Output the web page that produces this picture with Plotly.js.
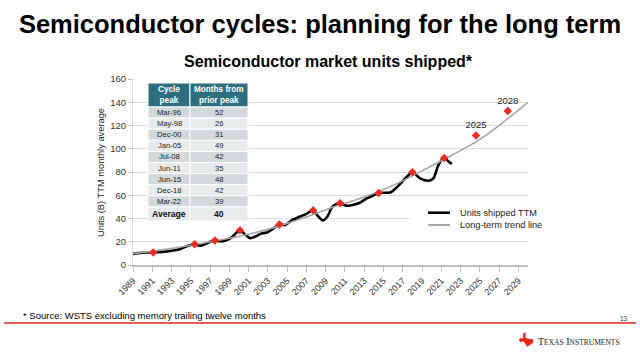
<!DOCTYPE html>
<html>
<head>
<meta charset="utf-8">
<script src="https://cdn.plot.ly/plotly-3.0.1.min.js"></script>
<style>
html,body{margin:0;padding:0;background:#fff;}
#chart{width:640px;height:353px;}
</style>
</head>
<body>
<div id="chart"></div>
<script>
// ---- data ----
const unitYears = [1989.0,1989.5,1990.0,1990.5,1991.1,1992.0,1993.0,1994.0,1994.7,1995.4,1996.0,1996.5,1997.0,1997.5,1998.1,1998.6,1999.2,1999.7,2000.1,2000.6,2001.2,2001.7,2002.3,2002.9,2003.6,2004.2,2004.8,2005.5,2006.3,2007.0,2007.7,2008.2,2008.7,2009.2,2009.6,2010.0,2010.5,2011.2,2011.9,2012.6,2013.3,2014.0,2014.5,2015.2,2015.7,2016.4,2017.2,2018.0,2018.8,2019.7,2020.2,2020.7,2021.3,2021.7,2022.1];
const unitValues = [9.6,10.2,10.6,10.8,10.9,11.3,12.3,14.0,16.5,17.9,16.5,18.0,20.0,21.0,20.2,21.0,23.5,27.5,29.8,26.5,23.0,24.5,27.0,28.0,31.5,34.8,34.5,38.5,41.5,44.0,47.1,42.0,38.3,42.0,49.0,52.0,53.1,51.0,51.8,53.8,57.5,60.0,62.0,62.2,62.3,67.0,74.0,79.8,74.5,72.5,74.8,86.0,92.0,89.5,86.8];

const trendYears  = [1989,1992,1995,1998,2001,2004,2007,2010,2013,2016,2019,2022,2025,2028,2030];
const trendValues = [9.8,13.0,17.0,21.5,26.5,33.0,41.5,50.5,58.5,68.5,81.0,94.0,108.0,126.5,140.0];

const peakYears  = [1991.1,1995.4,1997.5,2000.1,2004.2,2007.7,2010.5,2014.5,2018.0,2021.3];
const peakValues = [10.8,17.9,21.0,29.8,34.8,47.1,53.1,62.0,79.8,92.0];

const forecastYears  = [2024.6,2027.9];
const forecastValues = [111.5,132.5];
const forecastLabels = ['2025','2028'];

const cyclePeaks = ['Mar-96','May-98','Dec-00','Jan-05','Jul-08','Jun-11','Jun-15','Dec-18','Mar-22'];
const monthsFromPrior = [52,26,31,49,42,35,48,42,39];
const averageMonths = 40;
const tableHeaders = ['Cycle<br>peak', 'Months from<br>prior peak'];

const seriesNames = ['Units shipped TTM', 'Long-term trend line'];

const xTickYears = [];
for (let y = 1989; y <= 2029; y += 2) xTickYears.push(y);

// ---- geometry helpers (plot area 133..528 x, 79..265 y) ----
const L = 133, R = 528, T = 79, B = 265;
const px = x => (x - L) / (R - L);
const py = y => (B - y) / (B - T);

const FONT = 'Liberation Sans, Arial, Helvetica, sans-serif';
const RED = '#EE2B24';
const BLACK_LINE = {color: '#000', width: 2.6};
const TREND_LINE = {color: '#A6A6A6', width: 1.6};

const traces = [
  {
    type: 'scatter', mode: 'lines', name: seriesNames[0], showlegend: false,
    x: unitYears, y: unitValues,
    line: Object.assign({shape: 'spline', smoothing: 0.7}, BLACK_LINE),
    hoverinfo: 'skip'
  },
  {
    type: 'scatter', mode: 'lines', name: seriesNames[1], showlegend: false,
    x: trendYears, y: trendValues,
    line: Object.assign({shape: 'spline', smoothing: 1}, TREND_LINE),
    hoverinfo: 'skip'
  },
  {
    type: 'scatter', mode: 'markers', showlegend: false,
    x: peakYears, y: peakValues,
    marker: {symbol: 'diamond', size: 6.5, color: RED},
    hoverinfo: 'skip'
  },
  {
    type: 'scatter', mode: 'markers+text', showlegend: false,
    x: forecastYears, y: forecastValues,
    text: forecastLabels, textposition: 'top center',
    textfont: {family: FONT, size: 9.5, color: '#222'},
    marker: {symbol: 'diamond', size: 6.5, color: RED},
    hoverinfo: 'skip', cliponaxis: false
  }
];

const shapes = [];
const annotations = [];

// ---- table (drawn with shapes + annotations from the arrays) ----
const tX = [148, 190, 248];          // column edges
const tTop = 83, hdrH = 24, rowH = 11.1, avgH = 14;
const rect = (x0, x1, y0, y1, color) => shapes.push({
  type: 'rect', xref: 'paper', yref: 'paper', layer: 'above',
  x0: px(x0), x1: px(x1), y0: py(y1), y1: py(y0),
  fillcolor: color, line: {color: '#ffffff', width: 1}
});
const cellText = (txt, x0, x1, y0, y1, size, color) => annotations.push({
  text: txt, xref: 'paper', yref: 'paper', showarrow: false,
  x: px((x0 + x1) / 2), y: py((y0 + y1) / 2), xanchor: 'center', yanchor: 'middle',
  font: {family: FONT, size: size, color: color}
});
for (let c = 0; c < 2; c++) {
  rect(tX[c], tX[c + 1], tTop, tTop + hdrH, '#2F6E7F');
  cellText('<b>' + tableHeaders[c] + '</b>', tX[c], tX[c + 1], tTop, tTop + hdrH, 8.2, '#ffffff');
}
const rowValues = cyclePeaks.map((p, i) => [p, String(monthsFromPrior[i])]);
rowValues.forEach((row, i) => {
  const y0 = tTop + hdrH + i * rowH, y1 = y0 + rowH;
  const fill = i % 2 === 0 ? '#D3D8DB' : '#E8EBEC';
  for (let c = 0; c < 2; c++) {
    rect(tX[c], tX[c + 1], y0, y1, fill);
    cellText(row[c], tX[c], tX[c + 1], y0, y1, 7.6, '#222');
  }
});
{
  const y0 = tTop + hdrH + rowValues.length * rowH, y1 = y0 + avgH;
  const avgRow = ['Average', String(averageMonths)];
  for (let c = 0; c < 2; c++) {
    rect(tX[c], tX[c + 1], y0, y1, '#E8EBEC');
    cellText('<b>' + avgRow[c] + '</b>', tX[c], tX[c + 1], y0, y1, 8.6, '#111');
  }
}

// ---- legend (manual, to match compact spacing) ----
shapes.push({type: 'rect', xref: 'paper', yref: 'paper', layer: 'above',
  x0: px(410), x1: px(545), y0: py(233), y1: py(204), fillcolor: '#ffffff', line: {width: 0}});
const legendY = [212.7, 225];
const legendLines = [BLACK_LINE, {color: '#A6A6A6', width: 2}];
seriesNames.forEach((name, i) => {
  shapes.push({type: 'line', xref: 'paper', yref: 'paper', layer: 'above',
    x0: px(428), x1: px(450), y0: py(legendY[i]), y1: py(legendY[i]), line: legendLines[i]});
  annotations.push({text: name, xref: 'paper', yref: 'paper', showarrow: false,
    x: px(458), y: py(legendY[i]), xanchor: 'left', yanchor: 'middle',
    font: {family: FONT, size: 9.2, color: '#222'}});
});

// ---- page furniture ----
annotations.push(
  {text: '<b>Semiconductor market units shipped*</b>', xref: 'paper', yref: 'paper',
   x: px(328), y: py(61), xanchor: 'center', yanchor: 'middle', showarrow: false,
   font: {family: FONT, size: 16, color: '#000'}},
  {text: 'Units (B) TTM monthly average', xref: 'paper', yref: 'paper',
   x: px(101), y: py(173), xanchor: 'center', yanchor: 'middle', textangle: -90, showarrow: false,
   font: {family: FONT, size: 9.3, color: '#222'}},
  {text: '* Source: WSTS excluding memory trailing twelve months', xref: 'paper', yref: 'paper',
   x: px(21), y: py(315), xanchor: 'left', yanchor: 'middle', showarrow: false,
   font: {family: FONT, size: 9.5, color: '#000'}},
  {text: '13', xref: 'paper', yref: 'paper',
   x: px(630), y: py(318), xanchor: 'right', yanchor: 'middle', showarrow: false,
   font: {family: FONT, size: 6.5, color: '#333'}},
  {text: 'T<span style="font-size:7.5px">EXAS</span> I<span style="font-size:7.5px">NSTRUMENTS</span>',
   xref: 'paper', yref: 'paper',
   x: px(536), y: py(341), xanchor: 'left', yanchor: 'middle', showarrow: false,
   font: {family: 'Liberation Serif, Times New Roman, serif', size: 10, color: '#222'}}
);

// TI logo silhouette (decoration)
const lx = 519, ly = 333, ls = 14;
const pts = [[0.30,0],[0.47,0],[0.47,0.36],[0.75,0.42],[1.0,0.45],[1.0,0.7],[0.85,0.8],[0.66,0.95],[0.62,1.0],[0.5,0.86],[0.36,0.63],[0.2,0.6],[0.12,0.68],[0,0.5],[0.05,0.38],[0.3,0.38]];
const logoPath = 'M' + pts.map(p => px(lx + p[0]*ls).toFixed(4) + ',' + py(ly + p[1]*ls).toFixed(4)).join('L') + 'Z';
shapes.push(
  {type: 'line', xref: 'paper', yref: 'paper', x0: px(4), x1: px(636), y0: py(323), y1: py(323),
   line: {color: '#E8251E', width: 1.5}},
  {type: 'path', xref: 'paper', yref: 'paper', path: logoPath,
   fillcolor: '#E8251E', line: {width: 0}}
);

const layout = {
  width: 640, height: 353,
  margin: {l: L, r: 640 - R, t: T, b: 353 - B, pad: 0},
  paper_bgcolor: '#fff', plot_bgcolor: '#fff',
  font: {family: FONT, color: '#222'},
  title: {
    text: '<b>Semiconductor cycles: planning for the long term</b>',
    font: {family: FONT, size: 25.5, color: '#000'},
    xref: 'container', x: 0.5, xanchor: 'center',
    yref: 'container', y: 1 - 24/353, yanchor: 'middle'
  },
  xaxis: {
    range: [1989, 2030], tickmode: 'array', tickvals: xTickYears,
    ticktext: xTickYears.map(String),
    tickangle: -45, tickfont: {family: FONT, size: 9, color: '#333'},
    ticks: 'outside', ticklen: 5, tickcolor: '#BFBFBF', tickwidth: 1,
    showline: true, linecolor: '#BFBFBF', linewidth: 2,
    showgrid: false, zeroline: false, fixedrange: true
  },
  yaxis: {
    range: [0, 160], dtick: 20,
    tickfont: {family: FONT, size: 9.5, color: '#333'},
    ticks: 'outside', ticklen: 4, tickcolor: '#BFBFBF',
    showline: true, linecolor: '#D9D9D9', linewidth: 1,
    showgrid: true, gridcolor: '#DCDCDC', gridwidth: 1,
    zeroline: false, fixedrange: true
  },
  showlegend: false,
  annotations: annotations,
  shapes: shapes
};

Plotly.newPlot('chart', traces, layout, {staticPlot: true, displayModeBar: false});
</script>
</body>
</html>
